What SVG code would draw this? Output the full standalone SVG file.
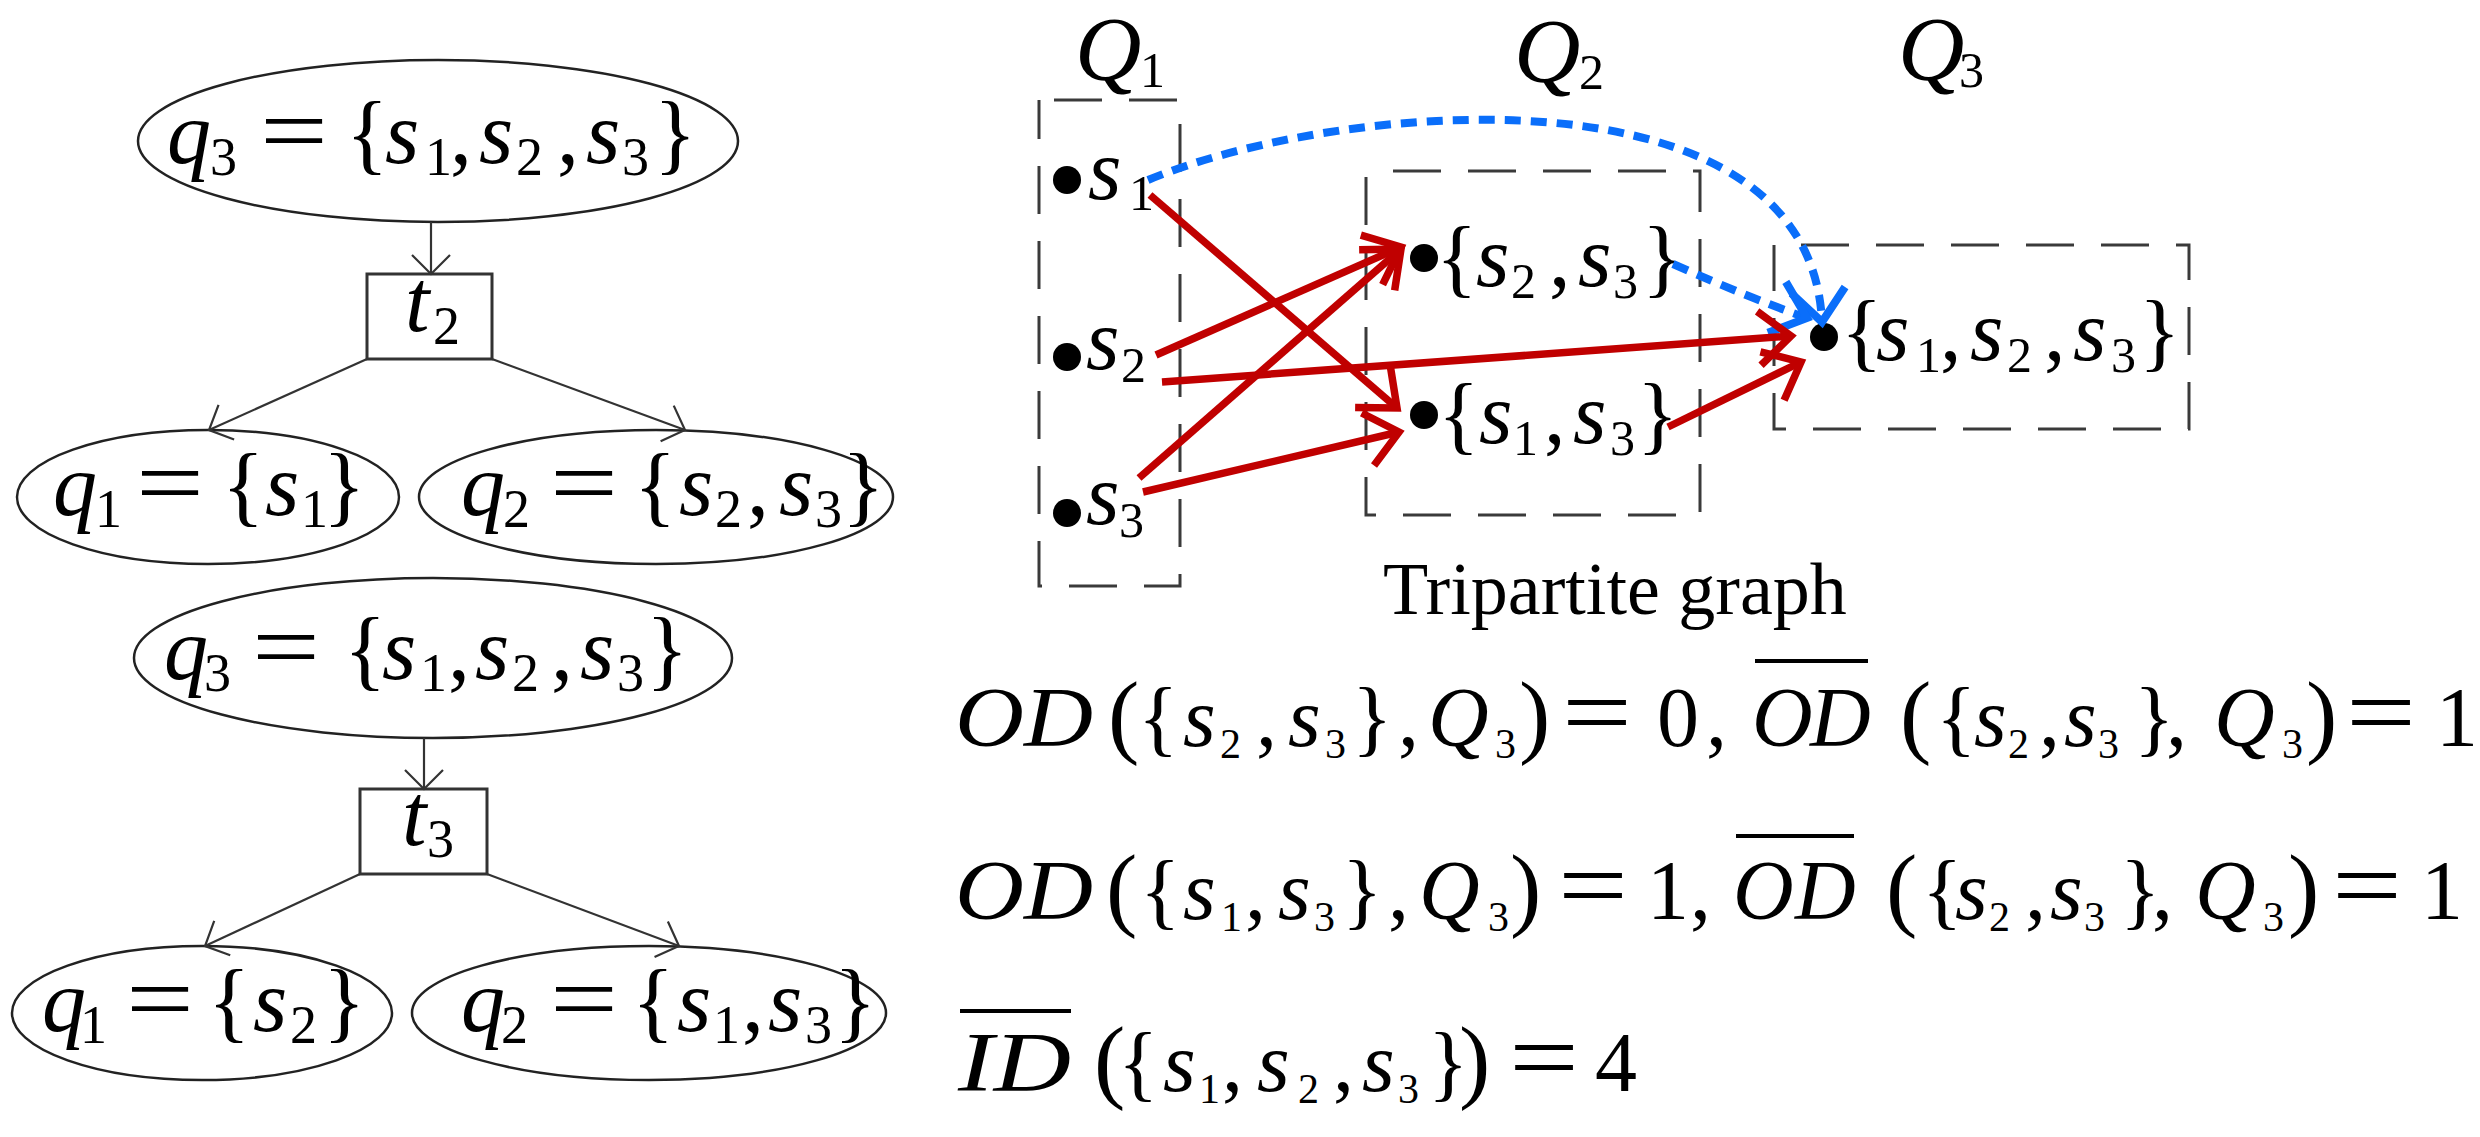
<svg xmlns="http://www.w3.org/2000/svg" width="2480" height="1137" viewBox="0 0 2480 1137">
<style>
.t{font-family:"Liberation Serif","Times New Roman",serif;fill:#000}
.i{font-style:italic}
.el{fill:none;stroke:#222;stroke-width:2.5}
.bx{fill:#fff;stroke:#333;stroke-width:3}
.tc{fill:none;stroke:#333;stroke-width:2.2}
.db{fill:none;stroke:#3a3a3a;stroke-width:3;stroke-dasharray:48 27}
.red{fill:none;stroke:#C00000;stroke-width:7.5}
.blue{fill:none;stroke:#0A6EFA;stroke-width:8;stroke-dasharray:16 10}
.dot{fill:#000}
.ov{stroke:#000;stroke-width:4}
</style>
<defs>
<marker id="ta" viewBox="-30 -25 35 50" markerWidth="35" markerHeight="50" refX="0" refY="0" orient="auto" markerUnits="userSpaceOnUse" overflow="visible"><path d="M-19,-19 L0,0 L-19,19" fill="none" stroke="#333" stroke-width="2.2"/></marker>
<marker id="ra" viewBox="-45 -35 50 70" markerWidth="50" markerHeight="70" refX="0" refY="0" orient="auto" markerUnits="userSpaceOnUse" overflow="visible"><path d="M-32,-27 L0,0 L-32,27" fill="none" stroke="#C00000" stroke-width="7.5"/></marker>
<marker id="ba" viewBox="-45 -35 50 70" markerWidth="50" markerHeight="70" refX="0" refY="0" orient="auto" markerUnits="userSpaceOnUse" overflow="visible"><path d="M-32,-27 L0,0 L-32,27" fill="none" stroke="#0A6EFA" stroke-width="8"/></marker>
</defs>
<rect width="2480" height="1137" fill="#fff"/>

<!-- Tree 1 -->
<g id="t1-q3">
<ellipse class="el" cx="438" cy="141" rx="300" ry="81"/>
<text class="t" font-size="88"><tspan class="i" x="167" y="163">q</tspan><tspan x="210" y="175" font-size="54">3</tspan><tspan x="346" y="163">{</tspan><tspan class="i" x="385" y="163">s</tspan><tspan x="425" y="175" font-size="54">1</tspan><tspan x="450" y="163">,</tspan><tspan class="i" x="479" y="163">s</tspan><tspan x="516" y="175" font-size="54">2</tspan><tspan x="557" y="163">,</tspan><tspan class="i" x="586" y="163">s</tspan><tspan x="622" y="175" font-size="54">3</tspan><tspan x="654" y="163">}</tspan></text>
<text class="t" x="260" y="163" font-size="96" textLength="68" lengthAdjust="spacingAndGlyphs">=</text>
</g>
<g id="t1-t2">
<rect class="bx" x="367" y="274" width="125" height="85"/>
<text class="t" font-size="88"><tspan class="i" x="405" y="331">t</tspan><tspan x="433" y="344" font-size="54">2</tspan></text>
</g>
<g id="t1-q1">
<ellipse class="el" cx="208" cy="497" rx="191" ry="67"/>
<text class="t" font-size="88"><tspan class="i" x="53" y="515">q</tspan><tspan x="95" y="527" font-size="54">1</tspan><tspan x="222" y="515">{</tspan><tspan class="i" x="265" y="515">s</tspan><tspan x="301" y="527" font-size="54">1</tspan><tspan x="323" y="515">}</tspan></text>
<text class="t" x="136" y="515" font-size="96" textLength="68" lengthAdjust="spacingAndGlyphs">=</text>
</g>
<g id="t1-q2">
<ellipse class="el" cx="656" cy="497" rx="237" ry="67"/>
<text class="t" font-size="88"><tspan class="i" x="461" y="515">q</tspan><tspan x="503" y="527" font-size="54">2</tspan><tspan x="634" y="515">{</tspan><tspan class="i" x="679" y="515">s</tspan><tspan x="715" y="527" font-size="54">2</tspan><tspan x="747" y="515">,</tspan><tspan class="i" x="779" y="515">s</tspan><tspan x="815" y="527" font-size="54">3</tspan><tspan x="842" y="515">}</tspan></text>
<text class="t" x="550" y="515" font-size="96" textLength="68" lengthAdjust="spacingAndGlyphs">=</text>
</g>

<!-- Tree 2 -->
<g id="t2-q3">
<ellipse class="el" cx="433" cy="658" rx="299" ry="80"/>
<text class="t" font-size="88"><tspan class="i" x="164" y="679">q</tspan><tspan x="204" y="691" font-size="54">3</tspan><tspan x="344" y="679">{</tspan><tspan class="i" x="382" y="679">s</tspan><tspan x="420" y="691" font-size="54">1</tspan><tspan x="448" y="679">,</tspan><tspan class="i" x="475" y="679">s</tspan><tspan x="512" y="691" font-size="54">2</tspan><tspan x="551" y="679">,</tspan><tspan class="i" x="580" y="679">s</tspan><tspan x="617" y="691" font-size="54">3</tspan><tspan x="646" y="679">}</tspan></text>
<text class="t" x="252" y="679" font-size="96" textLength="68" lengthAdjust="spacingAndGlyphs">=</text>
</g>
<g id="t2-t3">
<rect class="bx" x="360" y="789" width="127" height="85"/>
<text class="t" font-size="88"><tspan class="i" x="402" y="845">t</tspan><tspan x="427" y="857" font-size="54">3</tspan></text>
</g>
<g id="t2-q1">
<ellipse class="el" cx="202" cy="1013" rx="190" ry="67"/>
<text class="t" font-size="88"><tspan class="i" x="42" y="1031">q</tspan><tspan x="80" y="1043" font-size="54">1</tspan><tspan x="208" y="1031">{</tspan><tspan class="i" x="253" y="1031">s</tspan><tspan x="290" y="1043" font-size="54">2</tspan><tspan x="323" y="1031">}</tspan></text>
<text class="t" x="126" y="1031" font-size="96" textLength="68" lengthAdjust="spacingAndGlyphs">=</text>
</g>
<g id="t2-q2">
<ellipse class="el" cx="649" cy="1013" rx="237" ry="67"/>
<text class="t" font-size="88"><tspan class="i" x="461" y="1031">q</tspan><tspan x="501" y="1043" font-size="54">2</tspan><tspan x="632" y="1031">{</tspan><tspan class="i" x="677" y="1031">s</tspan><tspan x="713" y="1043" font-size="54">1</tspan><tspan x="742" y="1031">,</tspan><tspan class="i" x="768" y="1031">s</tspan><tspan x="805" y="1043" font-size="54">3</tspan><tspan x="834" y="1031">}</tspan></text>
<text class="t" x="550" y="1031" font-size="96" textLength="68" lengthAdjust="spacingAndGlyphs">=</text>
</g>

<!-- Tripartite graph -->
<g id="Q1">
<rect class="db" x="1039" y="100" width="141" height="486" stroke-dashoffset="60"/>
<text class="t" font-size="92"><tspan class="i" x="1075" y="80">Q</tspan><tspan x="1140" y="87" font-size="50">1</tspan></text>
</g>
<g id="Q2">
<rect class="db" x="1366" y="171" width="334" height="344" stroke-dashoffset="48"/>
<text class="t" font-size="92"><tspan class="i" x="1514" y="82">Q</tspan><tspan x="1579" y="89" font-size="50">2</tspan></text>
</g>
<g id="Q3">
<rect class="db" x="1774" y="245" width="415" height="184" stroke-dashoffset="48"/>
<text class="t" font-size="92"><tspan class="i" x="1898" y="80">Q</tspan><tspan x="1959" y="87" font-size="50">3</tspan></text>
</g>
<g id="n-s1">
<circle class="dot" cx="1067" cy="180" r="14"/>
<text class="t" font-size="86"><tspan class="i" x="1088" y="199">s</tspan><tspan x="1129" y="210" font-size="50">1</tspan></text>
</g>
<g id="n-s2">
<circle class="dot" cx="1067" cy="357" r="14"/>
<text class="t" font-size="86"><tspan class="i" x="1086" y="369">s</tspan><tspan x="1121" y="382" font-size="50">2</tspan></text>
</g>
<g id="n-s3">
<circle class="dot" cx="1067" cy="513" r="14"/>
<text class="t" font-size="86"><tspan class="i" x="1086" y="524">s</tspan><tspan x="1119" y="537" font-size="50">3</tspan></text>
</g>
<g id="n-s23">
<circle class="dot" cx="1424" cy="258" r="14"/>
<text class="t" font-size="86"><tspan x="1436" y="286">{</tspan><tspan class="i" x="1476" y="286">s</tspan><tspan x="1511" y="298" font-size="50">2</tspan><tspan x="1549" y="286">,</tspan><tspan class="i" x="1578" y="286">s</tspan><tspan x="1613" y="298" font-size="50">3</tspan><tspan x="1642" y="286">}</tspan></text>
</g>
<g id="n-s13">
<circle class="dot" cx="1424" cy="415" r="14"/>
<text class="t" font-size="86"><tspan x="1438" y="443">{</tspan><tspan class="i" x="1479" y="443">s</tspan><tspan x="1513" y="455" font-size="50">1</tspan><tspan x="1544" y="443">,</tspan><tspan class="i" x="1573" y="443">s</tspan><tspan x="1610" y="455" font-size="50">3</tspan><tspan x="1637" y="443">}</tspan></text>
</g>
<g id="n-s123">
<circle class="dot" cx="1824" cy="337" r="14"/>
<text class="t" font-size="86"><tspan x="1841" y="360">{</tspan><tspan class="i" x="1876" y="360">s</tspan><tspan x="1916" y="372" font-size="50">1</tspan><tspan x="1940" y="360">,</tspan><tspan class="i" x="1970" y="360">s</tspan><tspan x="2007" y="372" font-size="50">2</tspan><tspan x="2044" y="360">,</tspan><tspan class="i" x="2073" y="360">s</tspan><tspan x="2111" y="372" font-size="50">3</tspan><tspan x="2139" y="360">}</tspan></text>
</g>
<text class="t" x="1383" y="614" font-size="74">Tripartite graph</text>

<!-- Connectors -->
<g id="connectors">
<line class="tc" x1="431" y1="222" x2="431" y2="274" marker-end="url(#ta)"/>
<line class="tc" x1="367" y1="359" x2="209" y2="430" marker-end="url(#ta)"/>
<line class="tc" x1="492" y1="359" x2="685" y2="430" marker-end="url(#ta)"/>
<line class="tc" x1="424" y1="738" x2="424" y2="789" marker-end="url(#ta)"/>
<line class="tc" x1="360" y1="874" x2="205" y2="946" marker-end="url(#ta)"/>
<line class="tc" x1="487" y1="874" x2="679" y2="946" marker-end="url(#ta)"/>

<path class="blue" d="M1148,180 C1340,100 1810,60 1822,322"/>
<path d="M1820,305 L1822,322" fill="none" stroke="none" marker-end="url(#ba)"/>
<path class="blue" d="M1673,264 Q1745,296 1807,318"/>
<path d="M1790,312 L1807,318" fill="none" stroke="none" marker-end="url(#ba)"/>

<line class="red" x1="1150" y1="195" x2="1397" y2="408" marker-end="url(#ra)"/>
<line class="red" x1="1156" y1="355" x2="1401" y2="247" marker-end="url(#ra)"/>
<line class="red" x1="1162" y1="382" x2="1791" y2="336" marker-end="url(#ra)"/>
<line class="red" x1="1139" y1="478" x2="1401" y2="249" marker-end="url(#ra)"/>
<line class="red" x1="1143" y1="492" x2="1399" y2="432" marker-end="url(#ra)"/>
<line class="red" x1="1668" y1="427" x2="1801" y2="362" marker-end="url(#ra)"/>
</g>

<!-- Formulas -->
<g id="formula1">
<line class="ov" x1="1755" y1="661" x2="1868" y2="661"/>
<text class="t i" x="955" y="746" font-size="84" textLength="138" lengthAdjust="spacingAndGlyphs">OD</text>
<text class="t" font-size="84"><tspan x="1108" y="746" font-size="94">(</tspan><tspan x="1138" y="746">{</tspan><tspan class="i" x="1183" y="746">s</tspan><tspan x="1220" y="758" font-size="42">2</tspan><tspan x="1256" y="746">,</tspan><tspan class="i" x="1288" y="746">s</tspan><tspan x="1325" y="758" font-size="42">3</tspan><tspan x="1352" y="746">}</tspan><tspan x="1398" y="746">,</tspan><tspan class="i" x="1428" y="746">Q</tspan><tspan x="1495" y="758" font-size="42">3</tspan><tspan x="1519" y="746" font-size="94">)</tspan><tspan x="1657" y="746">0</tspan><tspan x="1706" y="746">,</tspan><tspan class="i" x="1752" y="746">O</tspan><tspan class="i" x="1810" y="746">D</tspan><tspan x="1900" y="746" font-size="94">(</tspan><tspan x="1936" y="746">{</tspan><tspan class="i" x="1974" y="746">s</tspan><tspan x="2008" y="758" font-size="42">2</tspan><tspan x="2039" y="746">,</tspan><tspan class="i" x="2064" y="746">s</tspan><tspan x="2098" y="758" font-size="42">3</tspan><tspan x="2134" y="746">}</tspan><tspan x="2166" y="746">,</tspan><tspan class="i" x="2214" y="746">Q</tspan><tspan x="2282" y="758" font-size="42">3</tspan><tspan x="2306" y="746" font-size="94">)</tspan><tspan x="2436" y="746">1</tspan></text>
<text class="t" x="1562" y="746" font-size="100" textLength="70" lengthAdjust="spacingAndGlyphs">=</text>
<text class="t" x="2346" y="746" font-size="100" textLength="70" lengthAdjust="spacingAndGlyphs">=</text>
</g>
<g id="formula2">
<line class="ov" x1="1736" y1="836" x2="1854" y2="836"/>
<text class="t i" x="955" y="919" font-size="84" textLength="138" lengthAdjust="spacingAndGlyphs">OD</text>
<text class="t" font-size="84"><tspan x="1106" y="919" font-size="94">(</tspan><tspan x="1140" y="919">{</tspan><tspan class="i" x="1183" y="919">s</tspan><tspan x="1221" y="931" font-size="42">1</tspan><tspan x="1245" y="919">,</tspan><tspan class="i" x="1278" y="919">s</tspan><tspan x="1314" y="931" font-size="42">3</tspan><tspan x="1342" y="919">}</tspan><tspan x="1388" y="919">,</tspan><tspan class="i" x="1419" y="919">Q</tspan><tspan x="1488" y="931" font-size="42">3</tspan><tspan x="1510" y="919" font-size="94">)</tspan><tspan x="1647" y="919">1</tspan><tspan x="1690" y="919">,</tspan><tspan class="i" x="1733" y="919">O</tspan><tspan class="i" x="1795" y="919">D</tspan><tspan x="1886" y="919" font-size="94">(</tspan><tspan x="1922" y="919">{</tspan><tspan class="i" x="1955" y="919">s</tspan><tspan x="1989" y="931" font-size="42">2</tspan><tspan x="2025" y="919">,</tspan><tspan class="i" x="2050" y="919">s</tspan><tspan x="2084" y="931" font-size="42">3</tspan><tspan x="2120" y="919">}</tspan><tspan x="2152" y="919">,</tspan><tspan class="i" x="2195" y="919">Q</tspan><tspan x="2263" y="931" font-size="42">3</tspan><tspan x="2288" y="919" font-size="94">)</tspan><tspan x="2421" y="919">1</tspan></text>
<text class="t" x="1558" y="919" font-size="100" textLength="70" lengthAdjust="spacingAndGlyphs">=</text>
<text class="t" x="2332" y="919" font-size="100" textLength="70" lengthAdjust="spacingAndGlyphs">=</text>
</g>
<g id="formula3">
<line class="ov" x1="960" y1="1011" x2="1071" y2="1011"/>
<text class="t i" x="958" y="1091" font-size="84" textLength="113" lengthAdjust="spacingAndGlyphs">ID</text>
<text class="t" font-size="84"><tspan x="1094" y="1091" font-size="94">(</tspan><tspan x="1118" y="1091">{</tspan><tspan class="i" x="1163" y="1091">s</tspan><tspan x="1199" y="1103" font-size="42">1</tspan><tspan x="1222" y="1091">,</tspan><tspan class="i" x="1257" y="1091">s</tspan><tspan x="1298" y="1103" font-size="42">2</tspan><tspan x="1333" y="1091">,</tspan><tspan class="i" x="1362" y="1091">s</tspan><tspan x="1398" y="1103" font-size="42">3</tspan><tspan x="1428" y="1091">}</tspan><tspan x="1459" y="1091" font-size="94">)</tspan><tspan x="1595" y="1091">4</tspan></text>
<text class="t" x="1509" y="1091" font-size="100" textLength="70" lengthAdjust="spacingAndGlyphs">=</text>
</g>
</svg>
